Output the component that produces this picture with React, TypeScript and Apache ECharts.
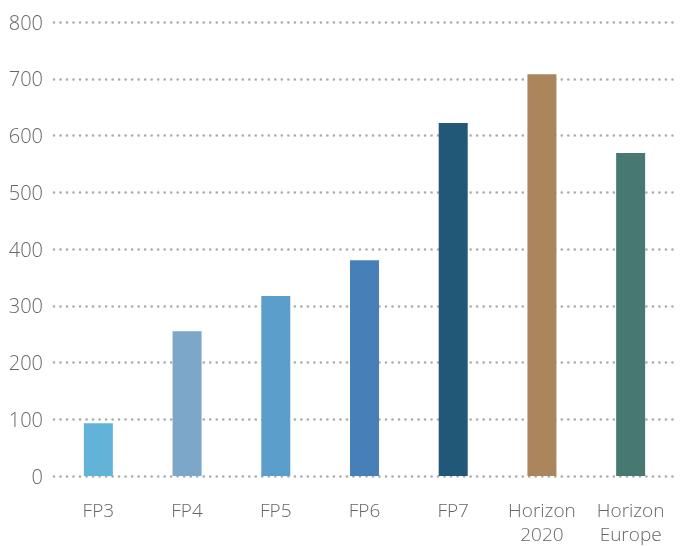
import React, { useEffect, useRef } from "react";
import * as echarts from "echarts";

const categories = ["FP3", "FP4", "FP5", "FP6", "FP7", "Horizon\n2020", "Horizon\nEurope"];
const values = [93, 255, 317, 380, 622, 708, 569];
const barColors = ["#63b3d9", "#7da7c8", "#5b9dcb", "#4780b8", "#215878", "#ab865c", "#487872"];
const yTicks = [0, 100, 200, 300, 400, 500, 600, 700, 800];

export default function App() {
  const ref = useRef<HTMLDivElement>(null);
  useEffect(() => {
    if (!ref.current) return;
    const chart = echarts.init(ref.current, undefined, { renderer: "svg" });
    chart.setOption({
      animation: false,
      grid: { left: 54, right: 6, top: 22, bottom: 70, outerBoundsMode: "none", containLabel: false },
      xAxis: {
        type: "category",
        data: categories,
        axisLine: { show: false },
        axisTick: { show: false },
        axisLabel: {
          interval: 0,
          color: "#666",
          fontFamily: "Open Sans",
          fontWeight: 300,
          fontSize: 19,
          lineHeight: 24,
          margin: 22,
          verticalAlign: "top",
          align: "center",
        },
      },
      yAxis: {
        type: "value",
        min: yTicks[0],
        max: yTicks[yTicks.length - 1],
        interval: 100,
        axisLine: { show: false },
        axisTick: { show: false },
        axisLabel: {
          color: "#666",
          fontFamily: "Open Sans",
          fontWeight: 300,
          fontSize: 20,
          margin: 11,
        },
        splitLine: {
          show: true,
          lineStyle: { color: "#aaaaaa", width: 2.6, type: [0.01, 6.5], cap: "round" },
        },
      },
      series: [
        {
          type: "bar",
          barWidth: 29,
          data: values.map((v, i) => ({ value: v, itemStyle: { color: barColors[i] } })),
        },
      ],
    });
    return () => chart.dispose();
  }, []);
  return (
    <div
      ref={ref}
      style={{ position: "fixed", left: 0, top: 0, width: 681, height: 546 }}
    />
  );
}
